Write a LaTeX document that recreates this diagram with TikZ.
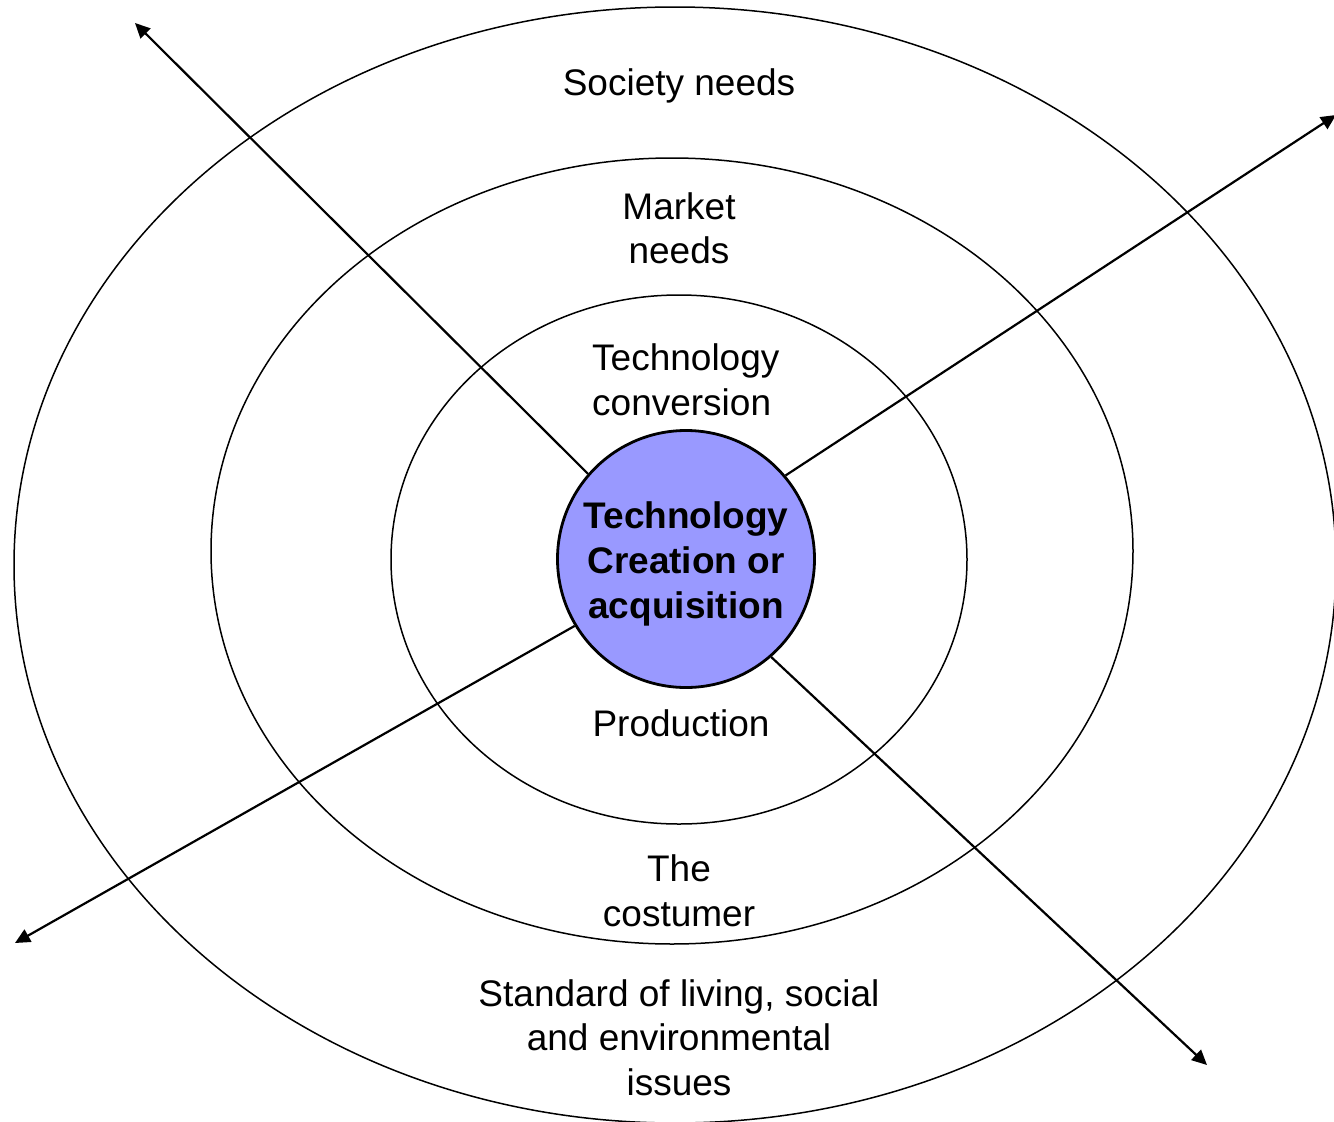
\documentclass[tikz,border=0pt]{standalone}
\usepackage{fontspec}
\setmainfont{Liberation Sans}
\usetikzlibrary{arrows.meta}
\definecolor{corefill}{RGB}{153,153,255}
\tikzset{
  ring/.style={line width=1.5pt},
  lbl/.style={align=center, font=\fontsize{37}{44.5}\selectfont, inner sep=0pt},
  core/.style={circle, draw, line width=2.8pt, fill=corefill, minimum size=257pt, inner sep=0pt},
  coretext/.style={align=center, font=\fontsize{37}{45}\selectfont\bfseries, inner sep=0pt},
  arr/.style={line width=2.2pt, -{Triangle[length=15pt,width=14pt]}}
}
\begin{document}
\begin{tikzpicture}[x=1pt,y=-1pt]
\useasboundingbox (0,0) rectangle (1334,1122);
% rings
\draw[ring] (675,565) ellipse [x radius=661pt, y radius=558pt];
\draw[ring] (672,551) ellipse [x radius=461pt, y radius=393pt];
\draw[ring] (679,559.5) ellipse [x radius=288pt, y radius=264.5pt];
% core
\node[core] (c) at (686,559) {};
\node[coretext] (ct) at (686,564) {Technology\\Creation or\\acquisition};
% arrow ends
\coordinate (tl) at (135,23);
\coordinate (tr) at (1336,115);
\coordinate (bl) at (15,943);
\coordinate (br) at (1207,1065);
\draw[arr] (c.139.7) -- (tl);
\draw[arr] (c.40) -- (tr);
\draw[arr] (c.211) -- (bl);
\draw[arr] (c.-49.7) -- (br);
% labels
\node[lbl] (soc) at (679,86) {Society needs};
\node[lbl] (mkt) at (679,228.5) {Market\\needs};
\node[lbl, align=left, anchor=west] (conv) at (592,380) {Technology\\conversion};
\node[lbl] (prod) at (681,723) {Production};
\node[lbl] (cust) at (679,891) {The\\costumer};
\node[lbl] (std) at (679,1037.5) {Standard of living, social\\and environmental\\issues};
\end{tikzpicture}
\end{document}
